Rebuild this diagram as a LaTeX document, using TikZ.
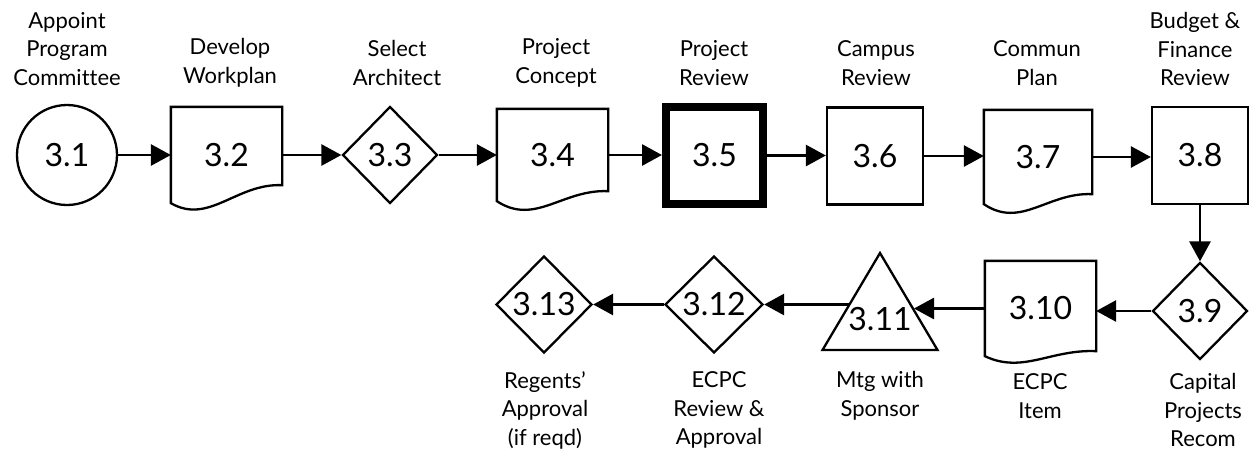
\documentclass[tikz,border=0pt]{standalone}
\usepackage{fontspec}
\setmainfont{Lato}[Ligatures=NoCommon]
\usetikzlibrary{arrows.meta,shapes.geometric}
\newcommand\docoutline[4]{% name, rise, ctrl dip, width
  \draw[outline] (#1.north west) -- (#1.north east) -- ([yshift=#2pt]#1.south east)
    .. controls ([xshift=-0.42*#4pt,yshift=#2pt+2pt]#1.south east) and ([xshift=0.35*#4pt,yshift=-#3pt]#1.south west) .. (#1.south west) -- cycle;}
\begin{document}
\begin{tikzpicture}[x=1pt,y=-1pt,
 shp/.style={draw=black, line width=2.3pt, inner sep=0pt, font=\fontsize{32}{36}\selectfont},
 circ/.style={shp, circle, minimum size=100pt},
 box/.style={shp, rectangle, minimum width=96pt, minimum height=97pt},
 thickbox/.style={shp, rectangle, line width=8pt, minimum size=97pt},
 dia/.style={shp, diamond, minimum width=95pt, minimum height=97pt},
 docn/.style={shp, draw=none, rectangle},
 outline/.style={draw=black, line width=2.3pt, line join=miter},
 lbl/.style={align=center, font=\fontsize{22}{28.5}\selectfont, inner sep=0pt},
 arr/.style={line width=2.8pt, -{Triangle[length=20pt,width=21pt]}},
]
\useasboundingbox[fill=white] (0,0) rectangle (1250,451);

% row 1
\node[circ] (n1) at (67,155) {3.1};
\node[docn, minimum width=109pt, minimum height=94pt] (n2) at (226.5,155) {3.2};
\docoutline{n2}{18}{22}{109}
\node[dia] (n3) at (390,155) {3.3};
\node[docn, minimum width=109pt, minimum height=90pt] (n4) at (552.5,155) {3.4};
\docoutline{n4}{10}{25}{109}
\node[thickbox] (n5) at (714.5,155.5) {3.5};
\node[box] (n6) at (875,156) {3.6};
\node[docn, minimum width=106pt, minimum height=92pt] (n7) at (1038,157) {3.7};
\docoutline{n7}{10}{25}{106}
\node[box] (n8) at (1200,155.5) {3.8};

% row 2
\node[dia] (n9) at (1200,311) {3.9};
\node[docn, minimum width=109pt, minimum height=93pt] (n10) at (1040.5,308.5) {3.10};
\docoutline{n10}{5}{18}{109}
\coordinate (t11a) at (880,253);
\coordinate (t11b) at (822.5,350);
\coordinate (t11c) at (937.5,350);
\draw[outline] (t11a) -- (t11b) -- (t11c) -- cycle;
\node[shp, draw=none] (n11) at (880,319) {3.11};
\coordinate (t11in) at (914,308.5);
\coordinate (t11out) at (848.5,304.5);
\node[dia, minimum width=98pt] (n12) at (714,304.5) {3.12};
\node[dia, minimum width=96pt] (n13) at (544,304.5) {3.13};

% connectors
\draw[arr] (n1.east) -- (n1.east -| n2.west);
\draw[arr] (n2.east) -- (n2.east -| n3.west);
\draw[arr] (n3.east) -- (n3.east -| n4.west);
\draw[arr] (n4.east) -- (n4.east -| n5.west);
\draw[arr] (n5.east) -- (n5.east -| n6.west);
\draw[arr] (n6.east) -- (n6.east -| n7.west);
\draw[arr] (n7.east) -- (n7.east -| n8.west);
\draw[arr] (n8.south) -- (n9.north);
\draw[arr] (n9.west) -- (n9.west -| n10.east);
\draw[arr] (n10.west) -- (t11in);
\draw[arr] (t11out) -- (t11out -| n12.east);
\draw[arr] (n12.west) -- (n12.west -| n13.east);

% labels
\node[lbl] (l1) at (67,49) {Appoint\\Program\\Committee};
\node[lbl] (l2) at (230,63) {Develop\\Workplan};
\node[lbl] (l3) at (397,63) {Select\\Architect};
\node[lbl] (l4) at (556,63) {Project\\Concept};
\node[lbl] (l5) at (714,63) {Project\\Review};
\node[lbl] (l6) at (876,63) {Campus\\Review};
\node[lbl] (l7) at (1037,63) {Commun\\Plan};
\node[lbl] (l8) at (1195,49) {Budget \&\\Finance\\Review};
\node[lbl] (l13) at (545,410) {Regents’\\Approval\\(if reqd)};
\node[lbl] (l12) at (719,410) {ECPC\\Review \&\\Approval};
\node[lbl] (l11) at (880,396) {Mtg with\\Sponsor};
\node[lbl] (l10) at (1040,396) {ECPC\\Item};
\node[lbl] (l9) at (1203,410) {Capital\\Projects\\Recom};
\end{tikzpicture}
\end{document}
